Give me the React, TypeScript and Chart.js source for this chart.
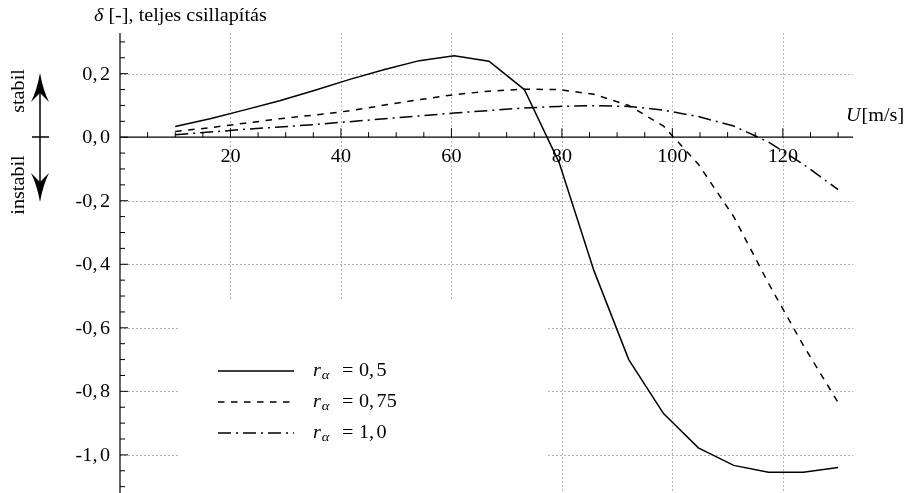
import React, { useEffect, useRef } from "react";
import { Chart, registerables } from "chart.js";
Chart.register(...registerables);

// Flow speed U [m/s]
const speeds = [10, 16.3, 22.6, 28.9, 35.3, 41.6, 47.9, 54.2, 60.5, 66.8, 73.2, 79.5, 85.8, 92.1, 98.4, 104.7, 111.1, 117.4, 123.7, 130];
// total damping δ for r_α = 0.5, 0.75, 1.0
const damping05 = [0.034, 0.058, 0.086, 0.115, 0.148, 0.182, 0.213, 0.241, 0.256, 0.239, 0.15, -0.08, -0.42, -0.7, -0.87, -0.978, -1.033, -1.055, -1.055, -1.04];
const damping075 = [0.018, 0.03, 0.044, 0.058, 0.07, 0.083, 0.101, 0.118, 0.134, 0.145, 0.151, 0.15, 0.135, 0.1, 0.035, -0.085, -0.25, -0.46, -0.655, -0.835];
const damping10 = [0.008, 0.016, 0.025, 0.032, 0.04, 0.049, 0.058, 0.067, 0.076, 0.084, 0.092, 0.097, 0.099, 0.097, 0.085, 0.065, 0.035, -0.015, -0.085, -0.165];

const seriesLabels = ["0,5", "0,75", "1,0"];
const xTickLabels = [20, 40, 60, 80, 100, 120];
const yTickLabels = [0.2, 0, -0.2, -0.4, -0.6, -0.8, -1.0];
const titleText = " [-], teljes csillapítás";

const FONT = "'Liberation Serif', serif";
const FS = 18;
const SX = 1.12;
const COMMA_GAP = 2.5;

const dashes = [[], [6.5, 6.5], [13, 5, 2, 5]];

function txt(ctx: any, s: string, x: number, y: number, align: string, font: string) {
  ctx.font = font;
  const w = ctx.measureText(s).width * SX;
  const x0 = align === "right" ? x - w : align === "center" ? x - w / 2 : x;
  ctx.save();
  ctx.translate(x0, y);
  ctx.scale(SX, 1);
  ctx.textAlign = "left";
  ctx.fillText(s, 0, 0);
  ctx.restore();
  return w;
}

function num(ctx: any, s: string, x: number, y: number, align: string) {
  const font = `${FS}px ${FONT}`;
  ctx.font = font;
  const idx = s.indexOf(",");
  const a = s.slice(0, idx + 1);
  const b = s.slice(idx + 1);
  const wa = ctx.measureText(a).width * SX;
  const wb = ctx.measureText(b).width * SX;
  const w = wa + COMMA_GAP + wb;
  const x0 = align === "right" ? x - w : align === "center" ? x - w / 2 : x;
  txt(ctx, a, x0, y, "left", font);
  txt(ctx, b, x0 + wa + COMMA_GAP, y, "left", font);
}

const decorPlugin = {
  id: "decor",
  beforeDatasetsDraw(chart: any) {
    const { ctx, chartArea, scales } = chart;
    const x = scales.x;
    const y = scales.y;
    const X = (v: number) => x.getPixelForValue(v);
    const Y = (v: number) => y.getPixelForValue(v);
    ctx.save();
    // grid
    ctx.strokeStyle = "#b4b4b4";
    ctx.lineWidth = 1;
    ctx.setLineDash([2, 2]);
    for (const v of xTickLabels) {
      const px = Math.round(X(v)) + 0.5;
      ctx.beginPath();
      ctx.moveTo(px, chartArea.top);
      ctx.lineTo(px, chartArea.bottom);
      ctx.stroke();
    }
    for (const v of yTickLabels) {
      if (v === 0) continue;
      const py = Math.round(Y(v)) + 0.5;
      ctx.beginPath();
      ctx.moveTo(chartArea.left, py);
      ctx.lineTo(chartArea.right, py);
      ctx.stroke();
    }
    ctx.setLineDash([]);
    // legend background
    ctx.fillStyle = "#fff";
    ctx.fillRect(178, 300, 368, 200);

    // axes
    ctx.strokeStyle = "#000";
    ctx.lineWidth = 1.2;
    const x0 = X(0);
    const y0 = Y(0);
    ctx.beginPath();
    ctx.moveTo(x0, chartArea.top);
    ctx.lineTo(x0, chartArea.bottom);
    ctx.moveTo(x0, y0);
    ctx.lineTo(chartArea.right, y0);
    ctx.stroke();
    // x ticks (upwards)
    ctx.lineWidth = 1;
    for (let v = 5; v <= 130; v += 5) {
      const px = X(v);
      const len = v % 20 === 0 ? 9 : 5;
      ctx.beginPath();
      ctx.moveTo(px, y0);
      ctx.lineTo(px, y0 - len);
      ctx.stroke();
    }
    // y ticks (rightwards)
    for (let k = -22; k <= 6; k++) {
      const v = k * 0.05;
      const py = Y(v);
      const len = k % 4 === 0 ? 8 : 5;
      ctx.beginPath();
      ctx.moveTo(x0, py);
      ctx.lineTo(x0 + len, py);
      ctx.stroke();
    }
    ctx.restore();
  },
  afterDatasetsDraw(chart: any) {
    const { ctx, scales } = chart;
    const x = scales.x;
    const y = scales.y;
    const reg = `${FS}px ${FONT}`;
    const ita = `italic ${FS}px ${FONT}`;
    ctx.save();
    ctx.fillStyle = "#000";
    ctx.textBaseline = "alphabetic";
    // x tick labels
    for (const v of xTickLabels) {
      txt(ctx, String(v), x.getPixelForValue(v), 162, "center", reg);
    }
    // y tick labels
    for (const v of yTickLabels) {
      const s = v.toFixed(1).replace(".", ",");
      num(ctx, s, 110, y.getPixelForValue(v) + 6, "right");
    }
    // title
    const dw = txt(ctx, "δ", 94, 21, "left", ita);
    txt(ctx, titleText, 94 + dw, 21, "left", reg);
    // x axis label
    const uw = txt(ctx, "U", 846, 121, "left", ita);
    txt(ctx, "[m/s]", 846 + uw + 1, 121, "left", reg);

    // stabil / instabil
    ctx.save();
    ctx.translate(24, 91);
    ctx.rotate(-Math.PI / 2);
    txt(ctx, "stabil", 0, 0, "center", reg);
    ctx.restore();
    ctx.save();
    ctx.translate(24, 185);
    ctx.rotate(-Math.PI / 2);
    txt(ctx, "instabil", 0, 0, "center", reg);
    ctx.restore();

    // double arrow
    ctx.strokeStyle = "#000";
    ctx.lineWidth = 1.5;
    ctx.beginPath();
    ctx.moveTo(40, 90);
    ctx.lineTo(40, 185);
    ctx.moveTo(32, 137);
    ctx.lineTo(49, 137);
    ctx.stroke();
    ctx.beginPath();
    ctx.moveTo(40, 73);
    ctx.quadraticCurveTo(43, 90, 49, 102);
    ctx.quadraticCurveTo(42, 95, 40, 93);
    ctx.quadraticCurveTo(38, 95, 31, 102);
    ctx.quadraticCurveTo(37, 90, 40, 73);
    ctx.fill();
    ctx.beginPath();
    ctx.moveTo(40, 202);
    ctx.quadraticCurveTo(43, 185, 49, 173);
    ctx.quadraticCurveTo(42, 180, 40, 182);
    ctx.quadraticCurveTo(38, 180, 31, 173);
    ctx.quadraticCurveTo(37, 185, 40, 202);
    ctx.fill();

    // legend
    const rows = [371, 402, 433];
    rows.forEach((ry, i) => {
      ctx.setLineDash(dashes[i]);
      ctx.lineWidth = 1.5;
      ctx.beginPath();
      ctx.moveTo(218, ry);
      ctx.lineTo(294, ry);
      ctx.stroke();
      ctx.setLineDash([]);
      const rw = txt(ctx, "r", 313, ry + 5, "left", ita);
      txt(ctx, "α", 313 + rw + 1, ry + 8, "left", `italic 13px ${FONT}`);
      txt(ctx, "=", 342, ry + 5, "left", reg);
      num(ctx, seriesLabels[i], 359, ry + 5, "left");
    });
    ctx.restore();
  },
};

export default function App() {
  const ref = useRef<HTMLCanvasElement | null>(null);
  useEffect(() => {
    if (!ref.current) return;
    const mk = (arr: number[]) => speeds.map((s, i) => ({ x: s, y: arr[i] }));
    const chart = new Chart(ref.current, {
      type: "line",
      data: {
        datasets: [damping05, damping075, damping10].map((arr, i) => ({
          label: "r_α = " + seriesLabels[i],
          data: mk(arr),
          borderColor: "#000",
          borderWidth: 1.5,
          borderDash: dashes[i],
          pointRadius: 0,
          fill: false,
          tension: 0,
        })),
      },
      options: {
        responsive: false,
        animation: false,
        events: [],
        layout: { padding: { left: 120, right: 57, top: 33, bottom: 0 } },
        plugins: { legend: { display: false }, tooltip: { enabled: false } },
        scales: {
          x: { type: "linear", min: 0, max: 132.7, display: false },
          y: { type: "linear", min: -1.12, max: 0.328, display: false },
        },
      },
      plugins: [decorPlugin],
    });
    return () => chart.destroy();
  }, []);
  return (
    <div style={{ position: "fixed", left: 0, top: 0, width: 910, height: 493, background: "#fff" }}>
      <canvas ref={ref} width={910} height={493} />
    </div>
  );
}
